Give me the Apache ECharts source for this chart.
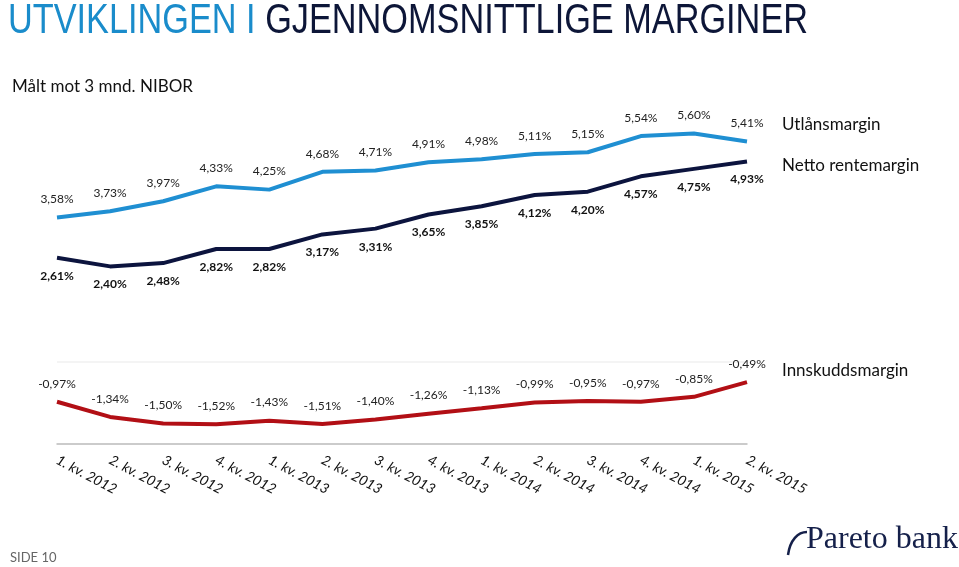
<!DOCTYPE html>
<html>
<head>
<meta charset="utf-8">
<script src="https://cdn.jsdelivr.net/npm/echarts@6/dist/echarts.min.js"></script>
<style>
  html, body { margin: 0; padding: 0; background: #fff; }
  #chart { width: 959px; height: 567px; }
</style>
</head>
<body>
<div id="chart"></div>
<script>
// kvartaler
var quarters = ["1. kv. 2012", "2. kv. 2012", "3. kv. 2012", "4. kv. 2012",
  "1. kv. 2013", "2. kv. 2013", "3. kv. 2013", "4. kv. 2013",
  "1. kv. 2014", "2. kv. 2014", "3. kv. 2014", "4. kv. 2014",
  "1. kv. 2015", "2. kv. 2015"];
var utlansmargin = [3.58, 3.73, 3.97, 4.33, 4.25, 4.68, 4.71, 4.91, 4.98, 5.11, 5.15, 5.54, 5.60, 5.41];
var nettoRentemargin = [2.61, 2.40, 2.48, 2.82, 2.82, 3.17, 3.31, 3.65, 3.85, 4.12, 4.20, 4.57, 4.75, 4.93];
var innskuddsmargin = [-0.97, -1.34, -1.50, -1.52, -1.43, -1.51, -1.40, -1.26, -1.13, -0.99, -0.95, -0.97, -0.85, -0.49];

var labelFont = "Lato, 'Open Sans', sans-serif";
var titleFont = "'Liberation Sans', sans-serif";
var pct = function (p) { return Number(p.value).toFixed(2).replace(".", ",") + "%"; };

// squeeze the title to the reference width
var titleText = "UTVIKLINGEN I GJENNOMSNITTLIGE MARGINER";
var ctx = document.createElement("canvas").getContext("2d");
ctx.font = "42px " + titleFont;
var titleScale = 800 / ctx.measureText(titleText).width;

var myChart = echarts.init(document.getElementById("chart"));
var option = {
  animation: false,
  backgroundColor: "#fff",
  grid: [
    { left: 57, right: 212, top: 117, height: 166 },
    { left: 57, right: 212, top: 362, height: 82 }
  ],
  xAxis: [
    { gridIndex: 0, type: "category", data: quarters, boundaryGap: false, show: false },
    {
      gridIndex: 1, type: "category", data: quarters, boundaryGap: false,
      axisLine: { onZero: false, lineStyle: { color: "#bdbdbd", width: 1.5 } },
      axisTick: { show: false },
      axisLabel: {
        rotate: -28, margin: 15, color: "#111", fontSize: 14,
        fontStyle: "italic", fontFamily: labelFont, interval: 0
      }
    }
  ],
  yAxis: [
    { gridIndex: 0, type: "value", min: 2, max: 6, show: false },
    {
      gridIndex: 1, type: "value", min: -2, max: 0, interval: 2,
      axisLine: { show: false }, axisTick: { show: false }, axisLabel: { show: false },
      splitLine: { lineStyle: { color: "#f4f4f4", width: 2 } }
    }
  ],
  series: [
    {
      name: "Utlånsmargin", type: "line", xAxisIndex: 0, yAxisIndex: 0,
      data: utlansmargin, symbol: "circle", symbolSize: 0.1, showSymbol: true,
      itemStyle: { color: "#1f8fd2" },
      lineStyle: { color: "#1f8fd2", width: 4 },
      label: { show: true, position: "top", distance: 12, formatter: pct,
        color: "#222", fontSize: 12, fontFamily: labelFont }
    },
    {
      name: "Netto rentemargin", type: "line", xAxisIndex: 0, yAxisIndex: 0,
      data: nettoRentemargin, symbol: "circle", symbolSize: 0.1, showSymbol: true,
      itemStyle: { color: "#0c143e" },
      lineStyle: { color: "#0c143e", width: 4 },
      label: { show: true, position: "bottom", distance: 12, formatter: pct,
        color: "#111", fontSize: 12, fontWeight: "bold", fontFamily: labelFont }
    },
    {
      name: "Innskuddsmargin", type: "line", xAxisIndex: 1, yAxisIndex: 1,
      data: innskuddsmargin, symbol: "circle", symbolSize: 0.1, showSymbol: true,
      itemStyle: { color: "#b20f15" },
      lineStyle: { color: "#b20f15", width: 4 },
      label: { show: true, position: "top", distance: 12, formatter: pct,
        color: "#222", fontSize: 12, fontFamily: labelFont }
    }
  ],
  graphic: [
    {
      type: "text", x: 8, y: 0, scaleX: titleScale,
      style: {
        text: "{a|UTVIKLINGEN I }{b|GJENNOMSNITTLIGE MARGINER}",
        rich: {
          a: { fill: "#1a8ccb", fontSize: 42, fontFamily: titleFont },
          b: { fill: "#0d1638", fontSize: 42, fontFamily: titleFont }
        }
      }
    },
    {
      type: "text", left: 12, top: 78,
      style: { text: "Målt mot 3 mnd. NIBOR", fill: "#111", fontSize: 17, fontFamily: labelFont }
    },
    {
      type: "text", left: 782, top: 116,
      style: { text: "Utlånsmargin", fill: "#111", fontSize: 17, fontFamily: labelFont }
    },
    {
      type: "text", left: 782, top: 157,
      style: { text: "Netto rentemargin", fill: "#111", fontSize: 17, fontFamily: labelFont }
    },
    {
      type: "text", left: 782, top: 362,
      style: { text: "Innskuddsmargin", fill: "#111", fontSize: 17, fontFamily: labelFont }
    },
    {
      type: "text", left: 10, top: 551,
      style: { text: "SIDE 10", fill: "#666", fontSize: 13, fontFamily: labelFont }
    },
    {
      type: "text", left: 806, top: 524,
      style: { text: "Pareto bank", fill: "#15204a", fontSize: 32, fontFamily: "'Liberation Serif', serif" }
    },
    {
      type: "bezierCurve",
      shape: { x1: 788, y1: 555, x2: 807, y2: 532, cpx1: 790, cpy1: 540, cpx2: 798, cpy2: 532 },
      style: { stroke: "#15204a", lineWidth: 2.5, fill: null }
    }
  ]
};
myChart.setOption(option);
</script>
</body>
</html>
